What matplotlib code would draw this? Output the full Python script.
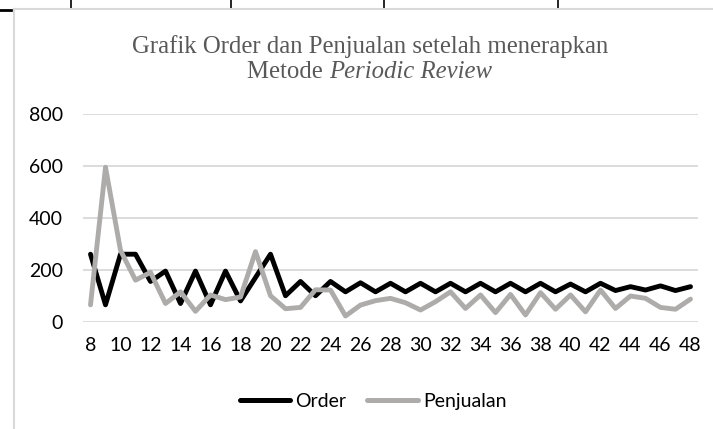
import matplotlib
matplotlib.use("Agg")
import matplotlib.pyplot as plt
from matplotlib.lines import Line2D

W, H = 713, 429

periode = [8, 9, 10, 11, 12, 13, 14, 15, 16, 17, 18, 19, 20, 21, 22, 23, 24, 25,
           26, 27, 28, 29, 30, 31, 32, 33, 34, 35, 36, 37, 38, 39, 40, 41, 42, 43,
           44, 45, 46, 47, 48]
order = [260, 65, 260, 260, 155, 195, 70, 195, 65, 195, 80, 170, 260, 100, 155,
         100, 155, 115, 150, 115, 148, 115, 148, 115, 148, 115, 148, 115, 148, 115,
         148, 115, 145, 115, 148, 120, 135, 122, 138, 120, 135]
penjualan = [65, 595, 275, 160, 190, 70, 115, 40, 103, 85, 95, 270, 100, 50, 55,
             123, 122, 22, 64, 81, 90, 73, 45, 77, 115, 51, 103, 35, 105, 26, 112,
             48, 103, 38, 122, 51, 99, 90, 55, 48, 87]
y_ticks = [0, 200, 400, 600, 800]

SANS = "Lato"
SERIF = "Liberation Serif"
GRAY_LINE = "#AEABAB"
GRID = "#D9D9D9"
TITLE_SIZE = 17.8


def px(x, y):
    # pixel coords (from top-left) -> figure fraction
    return x / W, 1 - y / H


fig = plt.figure(figsize=(W / 100, H / 100), dpi=100)
fig.patch.set_facecolor("white")

# spreadsheet cell borders and chart frame
for x in [71, 231, 384, 558]:
    fig.add_artist(Line2D([x / W, x / W], [1, 1 - 8 / H], color="black", lw=1.2,
                          transform=fig.transFigure))
fig.add_artist(Line2D([0, 11 / W], [1 - 10 / H, 1 - 10 / H], color="black", lw=2,
                      transform=fig.transFigure))
fig.add_artist(Line2D([13.5 / W, 13.5 / W], [0, 1 - 8.5 / H], color=GRID, lw=1.5,
                      transform=fig.transFigure))
fig.add_artist(Line2D([13.5 / W, 1], [1 - 8.5 / H, 1 - 8.5 / H], color=GRID, lw=1.5,
                      transform=fig.transFigure))

left, right, top, bottom = 83, 698, 114, 321.7
ax = fig.add_axes([left / W, 1 - bottom / H, (right - left) / W, (bottom - top) / H])

ax.plot(periode, order, color="black", lw=3.5, solid_joinstyle="round",
        solid_capstyle="round", label="Order", clip_on=False, zorder=3)
ax.plot(periode, penjualan, color=GRAY_LINE, lw=3.5, solid_joinstyle="round",
        solid_capstyle="round", label="Penjualan", clip_on=False, zorder=4)

ax.set_xlim(periode[0] - 0.5, periode[-1] + 0.5)
ax.set_ylim(y_ticks[0], y_ticks[-1])
ax.set_yticks(y_ticks)
ax.set_xticks(periode[::2])
ax.grid(axis="y", color=GRID, lw=1.3)
ax.grid(axis="x", visible=False)
ax.set_axisbelow(True)
for s in ax.spines.values():
    s.set_visible(False)
ax.tick_params(axis="both", length=0, labelsize=14, labelcolor="black")
ax.tick_params(axis="y", pad=14.4)
ax.tick_params(axis="x", pad=11)
for lab in ax.get_xticklabels() + ax.get_yticklabels():
    lab.set_fontfamily(SANS)

# title (Times-like serif, second line partly italic)
cx = 370
fig.text(*px(cx, 52.5), "Grafik Order dan Penjualan setelah menerapkan",
         family=SERIF, fontsize=TITLE_SIZE, color="#595959", ha="center",
         va="baseline")
renderer = fig.canvas.get_renderer()
t1 = fig.text(0, 0, "Metode ", family=SERIF, fontsize=TITLE_SIZE, color="#595959",
              va="baseline")
t2 = fig.text(0, 0, "Periodic Review", family=SERIF, fontsize=TITLE_SIZE,
              style="italic", color="#595959", va="baseline")
w1 = t1.get_window_extent(renderer).width
w2 = t2.get_window_extent(renderer).width
x0 = cx - (w1 + w2) / 2
t1.set_position(px(x0, 78.5))
t2.set_position(px(x0 + w1, 78.5))

leg = fig.legend(loc="center", bbox_to_anchor=px(373, 401.5), ncol=2, frameon=False,
                 prop={"family": SANS, "size": 14}, handlelength=2.6,
                 handletextpad=0.25, columnspacing=1.1)
for h in leg.get_lines():
    h.set_linewidth(3.6)
    h.set_solid_capstyle("round")

fig.savefig("out.png", dpi=100)
